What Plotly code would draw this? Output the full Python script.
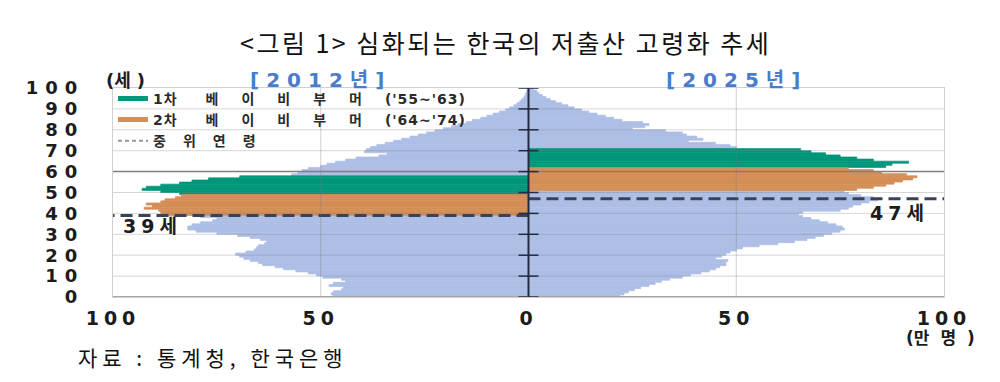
import re
import plotly.graph_objects as go

# ---------------- data ----------------
ages = list(range(0, 101))

pop_2012 = [
    47, 47.5, 47, 45, 44.5, 48, 47, 44, 45, 49.5,          # 0-9
    51, 53, 56, 59, 61, 64, 65, 67, 68.5, 69.5,            # 10-19
    70.5, 68, 66, 65.5, 65, 63.5, 63, 64.5, 67, 70,        # 20-29
    75, 80, 82, 82, 81, 79, 76, 75, 79, 88,                # 30-39
    88.5, 89, 92.5, 90.5, 92, 88.5, 87.5, 85, 83.5, 84,    # 40-49
    88.5, 93, 92, 88.5, 84, 81, 77, 69.5, 57, 55.5,        # 50-59
    54.5, 53, 50, 48.5, 46.5, 44, 41.5, 36, 34, 39.5,      # 60-69
    39, 38, 36.5, 34.5, 32.5, 30.5, 28.5, 26.5, 24.5, 22.5,  # 70-79
    20.5, 18.5, 17, 15, 13.5, 11.5, 10, 8.5, 7, 5.5,       # 80-89
    4.5, 3.5, 2.8, 2.1, 1.6, 1.1, 0.8, 0.6, 0.4, 0.3,      # 90-99
    0.2,                                                   # 100
]

pop_2025 = [
    22, 23, 24, 25.5, 27, 29, 30.5, 32, 34, 37,            # 0-9
    39, 41.5, 43.5, 45, 46, 47.5, 47.5, 48, 45, 46.5,      # 10-19
    47.5, 48.5, 50, 51.5, 55.5, 60, 64, 67, 69, 71,        # 20-29
    73, 75, 76, 75.5, 74, 72, 70, 68, 66, 65,              # 30-39
    66, 75, 77, 78, 80, 82, 84, 83, 80, 77,                # 40-49
    76, 79, 83, 86, 88, 90, 92.5, 93.5, 91, 85,            # 50-59
    83, 77, 86, 87.5, 91.5, 83, 79, 75, 71.5, 68,          # 60-69
    65.5, 50, 48.5, 45, 38.5, 42, 40.5, 38, 37, 33,        # 70-79
    25, 28, 29, 27.5, 22.5, 20.5, 18.5, 16.5, 14.5, 12.8,  # 80-89
    11, 9.5, 8, 6.5, 5.2, 4.2, 3.3, 2.5, 2, 1.2,           # 90-99
    0.6,                                                   # 100
]

years = ["2012", "2025"]
population = {"2012": pop_2012, "2025": pop_2025}
side = {"2012": -1, "2025": 1}                 # 2012 drawn to the left
boomer1_ages = {"2012": (49, 57), "2025": (62, 70)}   # born '55-'63
boomer2_ages = {"2012": (39, 48), "2025": (51, 61)}   # born '64-'74
median_age = {"2012": 39, "2025": 47}

series_names = ["1차 베이비부머('55~'63)", "2차 베이비부머('64~'74)", "중위연령"]
panel_titles = {"2012": "[2012년]", "2025": "[2025년]"}
median_labels = {"2012": "39세", "2025": "47세"}
x_tickvals = [-100, -50, 0, 50, 100]
x_ticktext = ["100", "50", "0", "50", "100"]
y_tickvals = list(range(0, 101, 10))
title_text = "<그림 1> 심화되는 한국의 저출산 고령화 추세"
source_text = "자료 : 통계청, 한국은행"
y_unit = "(세)"
x_unit = "(만명)"

# ---------------- styles ----------------
BLUE = "#adbee6"
GREEN = "#00977b"
ORANGE = "#d48e56"
MEDIAN_C = "#3a4257"
AXIS_C = "#262a40"
TXT = "#1c1c1c"
HDR_BLUE = "#4a7cc9"
BOLD = "DejaVu Sans, Noto Sans CJK KR"
KR = "Noto Sans CJK KR"
X_RANGE = [-100, 100]
Y_RANGE = [0, 100]


def esc(s):
    return s.replace("&", "&amp;").replace("<", "&lt;").replace(">", "&gt;")


def spread(s, ls_hangul, ls_other=0):
    """letter-spacing via inline style, keeping the text itself unchanged"""
    s = esc(s)
    parts = re.split(r"([\uac00-\ud7a3]+)", s)
    out = []
    for p in parts:
        if not p:
            continue
        if re.match(r"[\uac00-\ud7a3]", p):
            out.append(f'<span style="letter-spacing:{ls_hangul}px">{p}</span>' if ls_hangul else p)
        elif ls_other:
            out.append(f'<span style="letter-spacing:{ls_other}px">{p}</span>')
        else:
            out.append(p)
    return "".join(out)


fig = go.Figure()

# ---------------- bars ----------------
for yr in years:
    sgn = side[yr]
    pop = population[yr]
    b1 = boomer1_ages[yr]
    b2 = boomer2_ages[yr]
    groups = {
        BLUE: [a for a in ages if not (b1[0] <= a <= b1[1] or b2[0] <= a <= b2[1])],
        GREEN: [a for a in ages if b1[0] <= a <= b1[1]],
        ORANGE: [a for a in ages if b2[0] <= a <= b2[1]],
    }
    for col, ag in groups.items():
        fig.add_trace(go.Bar(
            orientation="h",
            y=ag,
            x=[sgn * pop[a] for a in ag],
            width=1, offset=0,
            marker=dict(color=col, line=dict(width=0.7, color=col)),
            showlegend=False, hoverinfo="skip",
        ))

# ---------------- median lines ----------------
for yr in years:
    sgn = side[yr]
    xs = [0, X_RANGE[0]] if sgn < 0 else [0, X_RANGE[1]]
    fig.add_trace(go.Scatter(
        x=xs, y=[median_age[yr]] * 2, mode="lines",
        line=dict(color=MEDIAN_C, width=3, dash="12px,6px"),
        showlegend=False, hoverinfo="skip",
    ))

# ---------------- legend entries ----------------
leg_specs = [
    (series_names[0], dict(color=GREEN, width=5), 23),
    (series_names[1], dict(color=ORANGE, width=5), 23),
    (series_names[2], dict(color="#8e98ad", width=2, dash="4px,3px"), 17),
]
for nm, ln, ls in leg_specs:
    fig.add_trace(go.Scatter(
        x=[None], y=[None], mode="lines", line=ln,
        name=spread(nm, ls, 1), showlegend=True, hoverinfo="skip",
    ))

# ---------------- shapes: grid (above bars), frame, center axis ----------------
shapes = []
for v in y_tickvals[1:-1]:
    shapes.append(dict(type="line", xref="x domain", x0=0, x1=1, yref="y", y0=v, y1=v,
                       line=dict(color="rgba(120,120,120,0.30)", width=1), layer="above"))
for v in (-50, 50):
    shapes.append(dict(type="line", xref="x", x0=v, x1=v, yref="y domain", y0=0, y1=1,
                       line=dict(color="rgba(120,120,120,0.35)", width=1), layer="above"))
shapes.append(dict(type="line", xref="x domain", x0=0, x1=1, yref="y", y0=60, y1=60,
                   line=dict(color="#808080", width=1.5), layer="above"))
shapes.append(dict(type="line", xref="x domain", x0=0, x1=1, yref="y", y0=0, y1=0,
                   line=dict(color="#a6a6a6", width=2), layer="above"))
shapes.append(dict(type="line", xref="x", x0=0, x1=0, yref="y domain", y0=0, y1=1,
                   line=dict(color=AXIS_C, width=2), layer="above"))
for v in y_tickvals:
    shapes.append(dict(type="line", xref="x", xsizemode="pixel", xanchor=0, x0=-10, x1=10,
                       yref="y", y0=v, y1=v, line=dict(color=AXIS_C, width=1.5), layer="above"))

# ---------------- annotations ----------------
ann = []
for yr in years:
    ann.append(dict(text=spread(panel_titles[yr], 7, 7), xref="x", x=side[yr] * 50,
                    yref="paper", y=1, yanchor="middle", yshift=8, showarrow=False,
                    font=dict(family=BOLD, size=20, color=HDR_BLUE, weight="bold")))
ann.append(dict(text=spread(median_labels["2012"], 4, 5), xref="x", x=X_RANGE[0], xanchor="left",
                xshift=8, yref="y", y=median_age["2012"], yanchor="middle", yshift=-11,
                showarrow=False, font=dict(family=BOLD, size=19, color=TXT, weight="bold")))
ann.append(dict(text=spread(median_labels["2025"], 4, 5), xref="x", x=X_RANGE[1], xanchor="right",
                xshift=-14, yref="y", y=median_age["2025"], yanchor="middle", yshift=-14,
                showarrow=False, font=dict(family=BOLD, size=19, color=TXT, weight="bold")))
ann.append(dict(text=spread(y_unit, 6, 0), xref="paper", x=0, xanchor="left", xshift=-9,
                yref="paper", y=1, yanchor="middle", yshift=8, showarrow=False,
                font=dict(family=BOLD, size=18, color=TXT, weight="bold")))
ann.append(dict(text=spread(x_unit, 11, 0), xref="paper", x=1, xanchor="right", xshift=33,
                yref="paper", y=0, yanchor="middle", yshift=-41, showarrow=False,
                font=dict(family=BOLD, size=17, color=TXT, weight="bold")))
ann.append(dict(text=f'<span style="letter-spacing:2.5px">{esc(title_text)}</span>',
                xref="paper", x=0.5, xshift=-23, yref="paper", y=1, yanchor="middle", yshift=46,
                showarrow=False, font=dict(family=KR, size=25, color="#111111")))
ann.append(dict(text=f'<span style="letter-spacing:5px">{esc(source_text)}</span>',
                xref="paper", x=0, xanchor="left", xshift=-37, yref="paper", y=0,
                yanchor="middle", yshift=-60, showarrow=False,
                font=dict(family=KR, size=21, color="#111111")))

fig.update_layout(
    width=1000, height=382,
    margin=dict(l=113, r=56, t=88, b=85),
    paper_bgcolor="white", plot_bgcolor="white",
    barmode="overlay",
    shapes=shapes, annotations=ann,
    legend=dict(x=0, y=1.025, xanchor="left", yanchor="top", bgcolor="rgba(0,0,0,0)",
                font=dict(family=BOLD, size=14, color="#2a2a2a", weight="bold"),
                tracegroupgap=0, itemwidth=30),
    xaxis=dict(range=X_RANGE, tickvals=x_tickvals,
               ticktext=[f'<span style="letter-spacing:5px">{t}</span>' for t in x_ticktext],
               showgrid=False, zeroline=False, showline=True, mirror=True,
               linecolor="#d0d0d0", linewidth=1, ticks="", ticklabelstandoff=4,
               tickfont=dict(family=BOLD, size=19, color=TXT, weight="bold")),
    yaxis=dict(range=Y_RANGE, tickvals=y_tickvals,
               ticktext=[f'<span style="letter-spacing:7px">{v}</span>' for v in y_tickvals],
               showgrid=False, zeroline=False, showline=True, mirror=True,
               linecolor="#d0d0d0", linewidth=1, ticks="", ticklabelstandoff=24,
               tickfont=dict(family=BOLD, size=18, color=TXT, weight="bold")),
)

fig.write_html("out.html")
